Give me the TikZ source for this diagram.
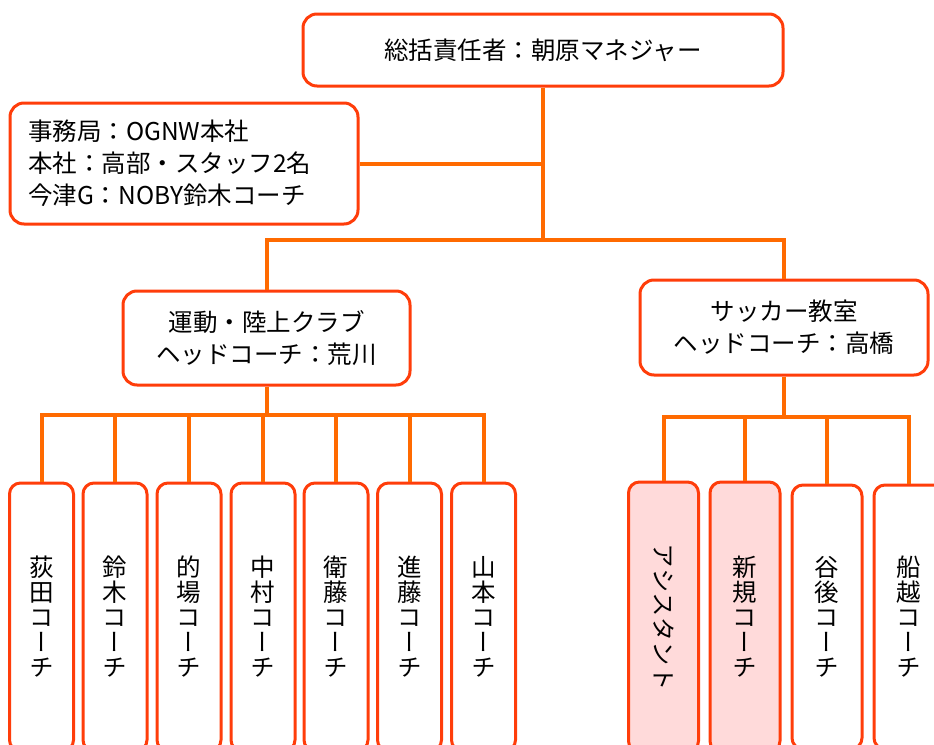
\documentclass[tikz,border=0pt]{standalone}
\usepackage{fontspec}
\setmainfont{Noto Sans CJK JP}
\newfontfamily\tatefont[RawFeature=+vert]{Noto Sans CJK JP}
\usetikzlibrary{positioning}
\definecolor{boxred}{HTML}{FF3D0A}
\definecolor{lineorange}{HTML}{FF6A00}
\definecolor{newpink}{HTML}{FFDADA}

\begin{document}
\begin{tikzpicture}[x=1pt,y=-1pt]
	\tikzstyle{Box}		= [draw=boxred, line width=3pt, rounded corners=14pt, fill=white, inner sep=0pt, align=center, font=\fontsize{24.5}{32}\selectfont]
	\tikzstyle{Coach}	= [Box, rounded corners=11pt, minimum width=64pt, minimum height=268pt, font=\tatefont\fontsize{24.5}{25}\selectfont]
	\tikzstyle{Soccer}	= [Coach, minimum width=70pt]
	\tikzstyle{New}		= [fill=newpink]
	\tikzstyle{Link}	= [draw=lineorange, line width=4pt]

	\useasboundingbox (0,0) rectangle (934,744);
	\clip (0,0) rectangle (934,744);

	% top and office
	\node (top) at (543,50) [Box, minimum width=480pt, minimum height=72pt] {総括責任者：朝原マネジャー};
	\node (office) at (184,163.5) [Box, minimum height=121pt, text width=312pt, inner xsep=18pt, align=left] {事務局：OGNW本社\\本社：高部・スタッフ2名\\今津G：NOBY鈴木コーチ};

	% two clubs
	\node (athl) at (266.5,338) [Box, minimum width=287pt, minimum height=94pt] {運動・陸上クラブ\\ヘッドコーチ：荒川};
	\node (socc) at (784,327.5) [Box, minimum width=288pt, minimum height=95pt] {サッカー教室\\ヘッドコーチ：高橋};

	% athletics coaches
	\node (a1) at (41.5,617) [Coach] {荻\\田\\コ\\ー\\チ};
	\node (a2) at (115,617) [Coach] {鈴\\木\\コ\\ー\\チ};
	\node (a3) at (189,617) [Coach] {的\\場\\コ\\ー\\チ};
	\node (a4) at (263,617) [Coach] {中\\村\\コ\\ー\\チ};
	\node (a5) at (336,617) [Coach] {衛\\藤\\コ\\ー\\チ};
	\node (a6) at (409.5,617) [Coach] {進\\藤\\コ\\ー\\チ};
	\node (a7) at (483.5,617) [Coach] {山\\本\\コ\\ー\\チ};

	% soccer coaches
	\node (s1) at (663.5,617) [Soccer, New, minimum height=270pt] {\rotatebox{-90}{アシスタント}};
	\node (s2) at (745,617) [Soccer, New, minimum height=270pt] {新\\規\\コ\\ー\\チ};
	\node (s3) at (827,617) [Soccer, minimum height=264pt] {谷\\後\\コ\\ー\\チ};
	\node (s4) at (909,617) [Soccer, minimum height=264pt] {船\\越\\コ\\ー\\チ};

	% connectors
	\coordinate (hub) at (543,240);
	\coordinate (abus) at (266.5,415);
	\coordinate (sbus) at (784,417);

	\draw [Link] (top) -- (hub);
	\draw [Link] (office) -- (office -| hub);
	\draw [Link] (athl) |- (hub) -| (socc);

	\draw [Link] (athl) -- (abus);
	\draw [Link] (a1) |- (abus) -| (a7);
	\foreach \n in {2,...,6}
		\draw [Link] (a\n) -- (a\n |- abus);

	\draw [Link] (socc) -- (sbus);
	\draw [Link] (s1) |- (sbus) -| (s4);
	\foreach \n in {2,3}
		\draw [Link] (s\n) -- (s\n |- sbus);
\end{tikzpicture}
\end{document}
